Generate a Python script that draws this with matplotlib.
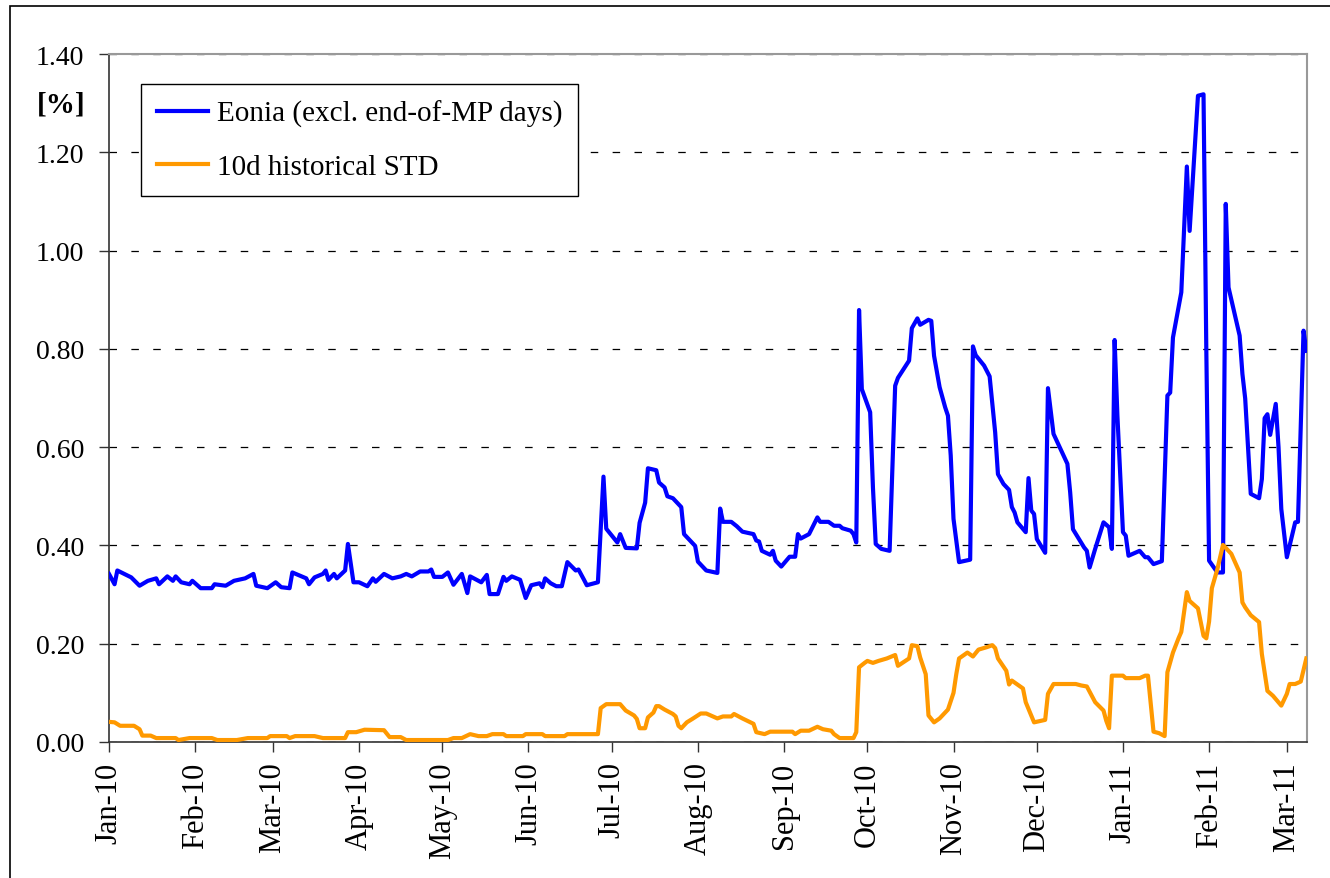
import matplotlib
matplotlib.use("Agg")
import matplotlib.pyplot as plt
import matplotlib.dates as mdates
from matplotlib.patches import Rectangle
import numpy as np

# ---------------- data ----------------
eonia_dates = [
    "2010-01-01", "2010-01-03", "2010-01-04", "2010-01-09", "2010-01-12", "2010-01-15", "2010-01-18",
    "2010-01-19", "2010-01-22", "2010-01-24", "2010-01-25", "2010-01-27", "2010-01-30", "2010-01-31",
    "2010-02-03", "2010-02-07", "2010-02-08", "2010-02-12", "2010-02-15", "2010-02-19", "2010-02-22",
    "2010-02-23", "2010-02-27", "2010-03-02", "2010-03-04", "2010-03-07", "2010-03-08", "2010-03-13",
    "2010-03-14", "2010-03-16", "2010-03-19", "2010-03-20", "2010-03-21", "2010-03-23", "2010-03-24",
    "2010-03-27", "2010-03-28", "2010-03-30", "2010-04-01", "2010-04-04", "2010-04-06", "2010-04-07",
    "2010-04-10", "2010-04-13", "2010-04-16", "2010-04-18", "2010-04-20", "2010-04-23", "2010-04-26",
    "2010-04-27", "2010-04-28", "2010-05-01", "2010-05-03", "2010-05-05", "2010-05-08", "2010-05-10",
    "2010-05-11", "2010-05-15", "2010-05-17", "2010-05-18", "2010-05-21", "2010-05-23", "2010-05-24",
    "2010-05-26", "2010-05-29", "2010-05-31", "2010-06-02", "2010-06-05", "2010-06-06", "2010-06-07",
    "2010-06-09", "2010-06-11", "2010-06-13", "2010-06-14", "2010-06-15", "2010-06-18", "2010-06-19",
    "2010-06-21", "2010-06-22", "2010-06-26", "2010-06-28", "2010-06-29", "2010-07-03", "2010-07-04",
    "2010-07-06", "2010-07-10", "2010-07-11", "2010-07-13", "2010-07-14", "2010-07-17", "2010-07-18",
    "2010-07-20", "2010-07-21", "2010-07-23", "2010-07-26", "2010-07-27", "2010-07-31", "2010-08-01",
    "2010-08-02", "2010-08-04", "2010-08-08", "2010-08-09", "2010-08-10", "2010-08-13", "2010-08-15",
    "2010-08-17", "2010-08-21", "2010-08-22", "2010-08-23", "2010-08-24", "2010-08-27", "2010-08-28",
    "2010-08-29", "2010-08-31", "2010-09-03", "2010-09-05", "2010-09-06", "2010-09-07", "2010-09-10",
    "2010-09-13", "2010-09-14", "2010-09-17", "2010-09-19", "2010-09-21", "2010-09-22", "2010-09-25",
    "2010-09-26", "2010-09-27", "2010-09-28", "2010-09-29", "2010-10-02", "2010-10-03", "2010-10-04",
    "2010-10-06", "2010-10-09", "2010-10-11", "2010-10-12", "2010-10-16", "2010-10-17", "2010-10-19",
    "2010-10-20", "2010-10-23", "2010-10-24", "2010-10-25", "2010-10-27", "2010-10-29", "2010-10-30",
    "2010-10-31", "2010-11-01", "2010-11-03", "2010-11-07", "2010-11-08", "2010-11-09", "2010-11-12",
    "2010-11-14", "2010-11-16", "2010-11-17", "2010-11-19", "2010-11-21", "2010-11-22", "2010-11-23",
    "2010-11-24", "2010-11-27", "2010-11-28", "2010-11-29", "2010-11-30", "2010-12-01", "2010-12-04",
    "2010-12-05", "2010-12-07", "2010-12-12", "2010-12-13", "2010-12-14", "2010-12-18", "2010-12-19",
    "2010-12-20", "2010-12-22", "2010-12-25", "2010-12-27", "2010-12-28", "2010-12-29", "2010-12-30",
    "2011-01-01", "2011-01-02", "2011-01-03", "2011-01-07", "2011-01-09", "2011-01-10", "2011-01-12",
    "2011-01-15", "2011-01-17", "2011-01-18", "2011-01-19", "2011-01-22", "2011-01-24", "2011-01-25",
    "2011-01-28", "2011-01-30", "2011-01-31", "2011-02-01", "2011-02-04", "2011-02-06", "2011-02-07",
    "2011-02-08", "2011-02-12", "2011-02-13", "2011-02-14", "2011-02-16", "2011-02-19", "2011-02-20",
    "2011-02-21", "2011-02-22", "2011-02-23", "2011-02-25", "2011-02-26", "2011-02-27", "2011-03-01",
    "2011-03-04", "2011-03-05", "2011-03-07", "2011-03-08",
]
eonia_values = [
    0.342, 0.321, 0.349, 0.335, 0.318, 0.328, 0.333,
    0.321, 0.337, 0.328, 0.337, 0.325, 0.321, 0.328,
    0.313, 0.313, 0.321, 0.318, 0.328, 0.333, 0.342,
    0.318, 0.313, 0.325, 0.315, 0.313, 0.345, 0.333,
    0.321, 0.335, 0.342, 0.349, 0.330, 0.342, 0.333,
    0.349, 0.403, 0.325, 0.325, 0.317, 0.333, 0.326,
    0.342, 0.333, 0.337, 0.342, 0.337, 0.347, 0.347,
    0.351, 0.336, 0.336, 0.345, 0.320, 0.342, 0.303,
    0.337, 0.325, 0.340, 0.301, 0.301, 0.336, 0.328,
    0.337, 0.330, 0.293, 0.319, 0.323, 0.315, 0.333,
    0.323, 0.317, 0.317, 0.342, 0.366, 0.349, 0.351,
    0.330, 0.319, 0.325, 0.540, 0.434, 0.406, 0.423,
    0.395, 0.394, 0.446, 0.487, 0.557, 0.553, 0.528,
    0.518, 0.500, 0.496, 0.478, 0.423, 0.399, 0.367,
    0.361, 0.349, 0.344, 0.475, 0.448, 0.448, 0.439,
    0.428, 0.423, 0.410, 0.408, 0.389, 0.381, 0.389,
    0.369, 0.357, 0.377, 0.377, 0.423, 0.414, 0.423,
    0.457, 0.448, 0.448, 0.440, 0.440, 0.435, 0.430,
    0.423, 0.406, 0.879, 0.718, 0.671, 0.518, 0.403,
    0.393, 0.389, 0.725, 0.741, 0.776, 0.842, 0.862,
    0.849, 0.859, 0.857, 0.786, 0.722, 0.681, 0.664,
    0.583, 0.454, 0.366, 0.371, 0.805, 0.787, 0.766,
    0.744, 0.630, 0.545, 0.525, 0.513, 0.478, 0.467,
    0.447, 0.427, 0.537, 0.471, 0.464, 0.413, 0.385,
    0.720, 0.627, 0.566, 0.508, 0.433, 0.396, 0.389,
    0.355, 0.393, 0.447, 0.437, 0.393, 0.818, 0.664,
    0.427, 0.420, 0.379, 0.389, 0.376, 0.376, 0.362,
    0.368, 0.705, 0.711, 0.823, 0.915, 1.171, 1.040,
    1.315, 1.318, 0.800, 0.369, 0.345, 0.345, 1.095,
    0.925, 0.827, 0.749, 0.699, 0.505, 0.496, 0.535,
    0.659, 0.667, 0.625, 0.688, 0.600, 0.474, 0.376,
    0.447, 0.448, 0.837, 0.796,
]

std_dates = [
    "2010-01-01", "2010-01-03", "2010-01-05", "2010-01-10", "2010-01-12", "2010-01-13", "2010-01-16",
    "2010-01-18", "2010-01-25", "2010-01-26", "2010-01-30", "2010-02-07", "2010-02-09", "2010-02-16",
    "2010-02-20", "2010-02-27", "2010-02-28", "2010-03-06", "2010-03-07", "2010-03-09", "2010-03-16",
    "2010-03-19", "2010-03-27", "2010-03-28", "2010-03-31", "2010-04-03", "2010-04-10", "2010-04-12",
    "2010-04-16", "2010-04-18", "2010-05-03", "2010-05-05", "2010-05-08", "2010-05-11", "2010-05-14",
    "2010-05-17", "2010-05-19", "2010-05-23", "2010-05-24", "2010-05-30", "2010-05-31", "2010-06-06",
    "2010-06-07", "2010-06-14", "2010-06-15", "2010-06-26", "2010-06-27", "2010-06-29", "2010-07-04",
    "2010-07-06", "2010-07-09", "2010-07-10", "2010-07-11", "2010-07-13", "2010-07-14", "2010-07-16",
    "2010-07-17", "2010-07-18", "2010-07-20", "2010-07-23", "2010-07-24", "2010-07-25", "2010-07-26",
    "2010-07-28", "2010-07-30", "2010-08-02", "2010-08-04", "2010-08-08", "2010-08-10", "2010-08-13",
    "2010-08-14", "2010-08-17", "2010-08-21", "2010-08-22", "2010-08-25", "2010-08-27", "2010-09-04",
    "2010-09-05", "2010-09-07", "2010-09-10", "2010-09-13", "2010-09-15", "2010-09-18", "2010-09-19",
    "2010-09-21", "2010-09-26", "2010-09-27", "2010-09-28", "2010-09-30", "2010-10-01", "2010-10-03",
    "2010-10-05", "2010-10-08", "2010-10-11", "2010-10-12", "2010-10-16", "2010-10-17", "2010-10-19",
    "2010-10-20", "2010-10-22", "2010-10-23", "2010-10-25", "2010-10-27", "2010-10-30", "2010-11-01",
    "2010-11-02", "2010-11-03", "2010-11-06", "2010-11-08", "2010-11-10", "2010-11-13", "2010-11-15",
    "2010-11-16", "2010-11-17", "2010-11-20", "2010-11-21", "2010-11-22", "2010-11-24", "2010-11-26",
    "2010-11-27", "2010-11-30", "2010-12-04", "2010-12-05", "2010-12-07", "2010-12-15", "2010-12-17",
    "2010-12-19", "2010-12-22", "2010-12-25", "2010-12-26", "2010-12-27", "2010-12-28", "2011-01-01",
    "2011-01-02", "2011-01-07", "2011-01-09", "2011-01-10", "2011-01-12", "2011-01-14", "2011-01-16",
    "2011-01-17", "2011-01-19", "2011-01-21", "2011-01-22", "2011-01-23", "2011-01-24", "2011-01-25",
    "2011-01-28", "2011-01-30", "2011-01-31", "2011-02-01", "2011-02-02", "2011-02-04", "2011-02-06",
    "2011-02-08", "2011-02-09", "2011-02-12", "2011-02-13", "2011-02-14", "2011-02-16", "2011-02-19",
    "2011-02-20", "2011-02-22", "2011-02-24", "2011-02-27", "2011-03-01", "2011-03-02", "2011-03-04",
    "2011-03-06", "2011-03-08",
]
std_values = [
    0.041, 0.040, 0.033, 0.033, 0.026, 0.013, 0.013,
    0.008, 0.008, 0.004, 0.008, 0.008, 0.004, 0.004,
    0.008, 0.008, 0.012, 0.012, 0.008, 0.012, 0.012,
    0.008, 0.008, 0.020, 0.020, 0.025, 0.024, 0.010,
    0.010, 0.004, 0.004, 0.008, 0.008, 0.016, 0.012,
    0.012, 0.016, 0.016, 0.012, 0.012, 0.016, 0.016,
    0.012, 0.012, 0.016, 0.016, 0.069, 0.077, 0.077,
    0.064, 0.054, 0.047, 0.028, 0.028, 0.050, 0.060,
    0.073, 0.073, 0.066, 0.057, 0.052, 0.033, 0.028,
    0.040, 0.047, 0.058, 0.058, 0.048, 0.052, 0.052,
    0.057, 0.048, 0.037, 0.020, 0.016, 0.021, 0.021,
    0.016, 0.023, 0.023, 0.031, 0.026, 0.023, 0.016,
    0.008, 0.008, 0.020, 0.152, 0.161, 0.165, 0.161,
    0.165, 0.170, 0.177, 0.155, 0.170, 0.197, 0.195,
    0.172, 0.138, 0.054, 0.040, 0.048, 0.066, 0.100,
    0.138, 0.170, 0.182, 0.174, 0.188, 0.193, 0.197,
    0.191, 0.170, 0.145, 0.117, 0.125, 0.117, 0.109,
    0.081, 0.040, 0.045, 0.098, 0.118, 0.118, 0.115,
    0.113, 0.081, 0.064, 0.043, 0.028, 0.135, 0.135,
    0.130, 0.130, 0.135, 0.135, 0.021, 0.018, 0.012,
    0.142, 0.182, 0.211, 0.224, 0.265, 0.305, 0.287,
    0.272, 0.216, 0.211, 0.245, 0.313, 0.352, 0.401,
    0.389, 0.383, 0.345, 0.284, 0.274, 0.258, 0.244,
    0.179, 0.104, 0.094, 0.074, 0.098, 0.118, 0.118,
    0.123, 0.170,
]

series_labels = ["Eonia (excl. end-of-MP days)", "10d historical STD"]
y_ticks = [0.0, 0.2, 0.4, 0.6, 0.8, 1.0, 1.2, 1.4]
y_unit_label = "[%]"

# ---------------- figure ----------------
W, H = 1330, 879
fig = plt.figure(figsize=(W / 100, H / 100), dpi=100)
serif = ["Liberation Serif", "DejaVu Serif"]

ax = fig.add_axes([109 / W, 1 - 743 / H, (1307 - 109) / W, (743 - 55) / H])

ed = np.array(eonia_dates, dtype="datetime64[D]")
sd = np.array(std_dates, dtype="datetime64[D]")

ax.plot(ed, eonia_values, color="#0000FF", lw=3.0, solid_joinstyle="round",
        label=series_labels[0], zorder=3)
ax.plot(sd, std_values, color="#FF9900", lw=3.0, solid_joinstyle="round",
        label=series_labels[1], zorder=3)

ax.set_ylim(0, 1.4)
ax.set_yticks(y_ticks)
ax.set_yticklabels([f"{v:.2f}" for v in y_ticks], fontfamily=serif, fontsize=20)

x0 = np.datetime64("2010-01-01")
x1 = np.datetime64("2011-03-08T06:00")
ax.set_xlim(mdates.date2num(x0), mdates.date2num(x1))
ax.xaxis.set_major_locator(mdates.MonthLocator())
ax.xaxis.set_major_formatter(mdates.DateFormatter("%b-%y"))
plt.setp(ax.get_xticklabels(), rotation=90, fontsize=22, fontfamily=serif,
         ha="center", va="top")

ax.tick_params(axis="both", direction="out", length=7, width=1, color="#333333")
ax.tick_params(axis="y", pad=11)
ax.tick_params(axis="x", pad=7)

ax.yaxis.grid(True, color="black", lw=0.9, linestyle=(0, (6, 11.5)))
ax.set_axisbelow(True)

for s in ["left", "bottom"]:
    ax.spines[s].set_color("#333333")
    ax.spines[s].set_linewidth(1.2)
for s in ["top", "right"]:
    ax.spines[s].set_color("#999999")
    ax.spines[s].set_linewidth(1.5)

fig.text(61 / W, 1 - 105 / H, y_unit_label, fontfamily=serif, fontsize=21,
         fontweight="bold", ha="center", va="center")

leg = ax.legend(loc="upper left", bbox_to_anchor=(141 / W, 1 - 85 / H),
                bbox_transform=fig.transFigure, borderaxespad=0,
                prop={"family": serif, "size": 21}, frameon=True, fancybox=False,
                edgecolor="black", framealpha=1, handlelength=1.75,
                handletextpad=0.3, labelspacing=0.9, borderpad=0.55)
leg.get_frame().set_linewidth(1.0)

# outer chart frame (clipped at right and bottom like the reference)
fig.add_artist(Rectangle((10 / W, -0.5), 2.0, 0.5 + (1 - 7 / H),
                         transform=fig.transFigure, fill=False,
                         edgecolor="black", lw=1.2))

fig.savefig("out.png", dpi=100)
